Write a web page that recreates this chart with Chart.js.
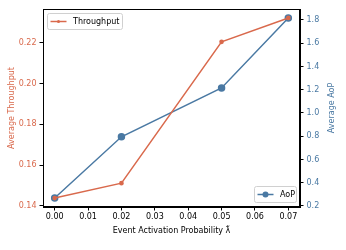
<!DOCTYPE html>
<html><head><meta charset="utf-8">
<script src="https://cdn.jsdelivr.net/npm/chart.js@4.4.0/dist/chart.umd.min.js"></script>
<style>html,body{margin:0;padding:0;background:#fff}#w{width:346px;height:250px}</style>
</head><body><div id="w"><canvas id="c"></canvas></div>
<script>
const lambdas = [0.00, 0.02, 0.05, 0.07];
const throughput = [0.1439, 0.1512, 0.2205, 0.2322];
const aop = [0.268, 0.795, 1.215, 1.817];
const xTicks = [0.00, 0.01, 0.02, 0.03, 0.04, 0.05, 0.06, 0.07];
const yLeftTicks = [0.14, 0.16, 0.18, 0.20, 0.22];
const yRightTicks = [0.2, 0.4, 0.6, 0.8, 1.0, 1.2, 1.4, 1.6, 1.8];
const xTitle = 'Event Activation Probability λ̃';
const leftTitle = 'Average Throughput';
const rightTitle = 'Average AoP';

const RED = '#d9694c', BLUE = '#4a79a3';
const FONT = {family: 'DejaVu Sans', size: 8};
const CSSFONT = '8px "DejaVu Sans"';

const frame = {
  id: 'frame',
  afterDatasetsDraw(chart) {
    const {ctx, chartArea: a} = chart;
    ctx.save();
    ctx.strokeStyle = '#000'; ctx.lineWidth = 1;
    ctx.strokeRect(Math.round(a.left)+0.5, Math.round(a.top)+0.5, Math.round(a.right-a.left)-1, Math.round(a.bottom-a.top)-1);
    function box(x, y, w, h, color, r, label) {
      ctx.fillStyle = 'rgba(255,255,255,0.85)';
      ctx.strokeStyle = '#d0d0d0';
      ctx.lineWidth = 1;
      ctx.beginPath();
      ctx.roundRect(x+0.5, y+0.5, w, h, 2);
      ctx.fill(); ctx.stroke();
      const cy = y + h/2 + 0.5;
      ctx.strokeStyle = color; ctx.lineWidth = 1.5;
      ctx.beginPath(); ctx.moveTo(x+3.5, cy); ctx.lineTo(x+19.5, cy); ctx.stroke();
      ctx.fillStyle = color;
      ctx.beginPath(); ctx.arc(x+11.5, cy, r, 0, Math.PI*2); ctx.fill();
      ctx.fillStyle = '#000';
      ctx.font = CSSFONT;
      ctx.textBaseline = 'middle';
      ctx.fillText(label, x+26, cy+0.5);
    }
    box(a.left+4, a.top+4, 75, 16, RED, 1.5, 'Throughput');
    box(a.right-46, a.bottom-21, 42, 16, BLUE, 3, 'AoP');
    ctx.restore();
  },
  afterDraw(chart) {
    const {ctx, chartArea: a} = chart;
    ctx.save();
    ctx.font = CSSFONT;
    ctx.textAlign = 'center';
    ctx.textBaseline = 'middle';
    ctx.fillStyle = '#000';
    ctx.fillText(xTitle, (a.left+a.right)/2, 231);
    const cy = (a.top + a.bottom)/2;
    ctx.fillStyle = RED;
    ctx.save(); ctx.translate(12, cy); ctx.rotate(-Math.PI/2); ctx.fillText(leftTitle, 0, 0); ctx.restore();
    ctx.fillStyle = BLUE;
    ctx.save(); ctx.translate(332, cy); ctx.rotate(-Math.PI/2); ctx.fillText(rightTitle, 0, 0); ctx.restore();
    ctx.restore();
  }
};

new Chart(document.getElementById('c'), {
  type: 'line',
  data: {
    datasets: [
      {label: 'Throughput', data: lambdas.map((x,i)=>({x, y: throughput[i]})), yAxisID: 'y',
       borderColor: RED, backgroundColor: RED, borderWidth: 1.5, pointRadius: 1.6, pointHoverRadius: 1.6, tension: 0},
      {label: 'AoP', data: lambdas.map((x,i)=>({x, y: aop[i]})), yAxisID: 'y1',
       borderColor: BLUE, backgroundColor: BLUE, borderWidth: 1.5, pointRadius: 3, pointHoverRadius: 3, tension: 0}
    ]
  },
  options: {
    responsive: true, maintainAspectRatio: false, animation: false,
    layout: {padding: {top: 9, left: 0, right: 0, bottom: 0}},
    plugins: {legend: {display: false}, tooltip: {enabled: false}},
    scales: {
      x: {
        type: 'linear', min: -0.0035, max: 0.0735,
        afterBuildTicks: s => { s.ticks = xTicks.map(v => ({value: v})); },
        afterFit: s => { s.height = 43; },
        grid: {drawOnChartArea: false, tickLength: 3.5, tickColor: '#000'},
        border: {color: '#000'},
        ticks: {color: '#000', font: FONT, padding: 2, maxRotation: 0, callback: v => v.toFixed(2)},
        title: {display: false}
      },
      y: {
        type: 'linear', position: 'left', min: 0.1395, max: 0.2366,
        afterBuildTicks: s => { s.ticks = yLeftTicks.map(v => ({value: v})); },
        afterFit: s => { s.width = 43; },
        grid: {drawOnChartArea: false, tickLength: 3.5, tickColor: '#000'},
        border: {color: '#000'},
        ticks: {color: RED, font: FONT, padding: 3, callback: v => v.toFixed(2)},
        title: {display: false}
      },
      y1: {
        type: 'linear', position: 'right', min: 0.191, max: 1.894,
        afterBuildTicks: s => { s.ticks = yRightTicks.map(v => ({value: v})); },
        afterFit: s => { s.width = 46; },
        grid: {drawOnChartArea: false, tickLength: 3.5, tickColor: '#000'},
        border: {color: '#000'},
        ticks: {color: BLUE, font: FONT, padding: 3, callback: v => v.toFixed(1)},
        title: {display: false}
      }
    }
  },
  plugins: [frame]
});
</script></body></html>
